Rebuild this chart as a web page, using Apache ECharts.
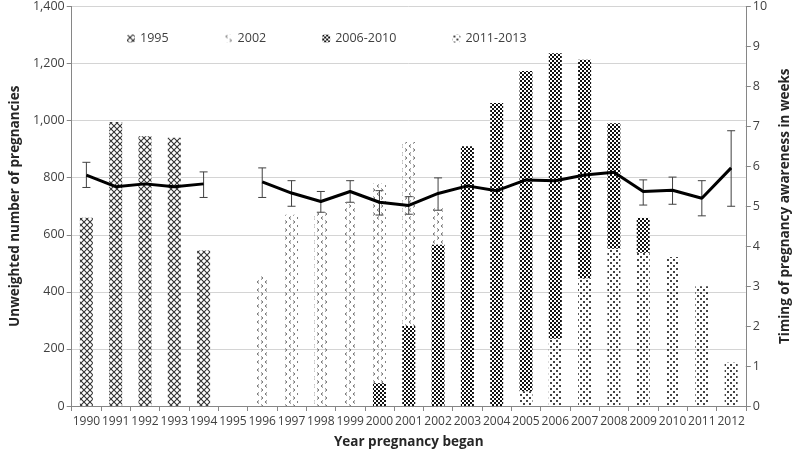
<!DOCTYPE html>
<html>
<head>
<meta charset="utf-8">
<script src="https://cdn.jsdelivr.net/npm/echarts@6/dist/echarts.min.js"></script>
<style>
html,body{margin:0;padding:0;background:#fff;}
#chart{width:800px;height:454px;}
</style>
</head>
<body>
<div id="chart"></div>
<script>
// ---- data ----
var years = ['1990','1991','1992','1993','1994','1995','1996','1997','1998','1999','2000','2001','2002','2003','2004','2005','2006','2007','2008','2009','2010','2011','2012'];
var s1995 =     [660, 995, 945, 940, 545, '-', '-', '-', '-', '-', '-', '-', '-', '-', '-', '-', '-', '-', '-', '-', '-', '-', '-'];
var s2002 =     ['-', '-', '-', '-', '-', '-', 455, 670, 680, 715, 700, 645, 130, '-', '-', '-', '-', '-', '-', '-', '-', '-', '-'];
var s2006_2010 = ['-', '-', '-', '-', '-', '-', '-', '-', '-', '-', 80, 280, 565, 910, 1062, 1122, 1000, 765, 440, 122, '-', '-', '-'];
var s2011_2013 = ['-', '-', '-', '-', '-', '-', '-', '-', '-', '-', '-', '-', '-', '-', '-', 52, 236, 448, 551, 537, 522, 420, 152];
var weeks =     [5.78, 5.49, 5.56, 5.49, 5.56, '-', 5.61, 5.33, 5.12, 5.37, 5.10, 5.02, 5.32, 5.51, 5.39, 5.66, 5.64, 5.78, 5.85, 5.37, 5.40, 5.20, 5.96];
var weeksLow =  [5.47, 5.20, 5.25, 5.20, 5.22, '-', 5.22, 5.00, 4.85, 5.10, 4.78, 4.80, 4.90, 5.25, 5.10, 5.40, 5.35, 5.50, 5.55, 5.03, 5.05, 4.76, 5.00];
var weeksHigh = [6.10, 5.80, 5.85, 5.80, 5.86, '-', 5.96, 5.64, 5.37, 5.64, 5.39, 5.24, 5.71, 5.80, 5.70, 5.95, 5.95, 6.10, 6.15, 5.66, 5.73, 5.64, 6.89];
var leftTicks = [0, 1400, 200];
var rightTicks = [0, 10, 1];

// ---- patterns ----
function makePattern(w, h, draw) {
  var c = document.createElement('canvas');
  c.width = w; c.height = h;
  var ctx = c.getContext('2d');
  draw(ctx);
  return {image: c, repeat: 'repeat'};
}
var pat1995 = makePattern(6, 6, function (ctx) {
  ctx.fillStyle = '#fff'; ctx.fillRect(0, 0, 6, 6);
  ctx.strokeStyle = '#333'; ctx.lineWidth = 1.1;
  ctx.beginPath();
  ctx.moveTo(0, 0); ctx.lineTo(6, 6);
  ctx.moveTo(6, 0); ctx.lineTo(0, 6);
  ctx.stroke();
});
var pat2002 = makePattern(8, 8, function (ctx) {
  ctx.strokeStyle = '#6e6e6e'; ctx.lineWidth = 1;
  ctx.beginPath();
  ctx.moveTo(3, 0.5); ctx.lineTo(1, 2); ctx.lineTo(3, 3.5);
  ctx.moveTo(5, 4.5); ctx.lineTo(7, 6); ctx.lineTo(5, 7.5);
  ctx.stroke();
});
var pat2006 = makePattern(4, 4, function (ctx) {
  ctx.fillStyle = '#fff'; ctx.fillRect(0, 0, 4, 4);
  ctx.fillStyle = '#111';
  ctx.fillRect(0, 0, 2, 2); ctx.fillRect(2, 2, 2, 2);
});
var pat2011 = makePattern(6, 6, function (ctx) {
  ctx.fillStyle = '#444';
  ctx.fillRect(1, 1, 2, 2); ctx.fillRect(4, 4, 2, 2);
});

var errData = years.map(function (y, i) { return [i, weeksLow[i], weeksHigh[i]]; })
  .filter(function (d) { return d[1] !== '-'; });

var chart = echarts.init(document.getElementById('chart'), null, {renderer: 'canvas'});
var font = 'Open Sans';
chart.setOption({
  animation: false,
  textStyle: {fontFamily: font},
  grid: {left: 62, right: 42, top: 5, bottom: 42, containLabel: false},
  legend: {
    top: 27, left: 122, itemWidth: 8, itemHeight: 8, itemGap: 56,
    textStyle: {fontFamily: font, fontSize: 12.5, color: '#404040'},
    data: ['1995', '2002', '2006-2010', '2011-2013']
  },
  xAxis: {
    type: 'category', data: years,
    axisLine: {lineStyle: {color: '#868686'}},
    axisTick: {show: true, alignWithLabel: false, length: 5, lineStyle: {color: '#868686'}},
    axisLabel: {interval: 0, fontSize: 12, color: '#404040', margin: 10, fontFamily: font},
    name: 'Year pregnancy began', nameLocation: 'middle', nameGap: 29,
    nameTextStyle: {fontWeight: 'bold', fontSize: 13.5, color: '#262626', fontFamily: font}
  },
  yAxis: [{
    type: 'value', min: leftTicks[0], max: leftTicks[1], interval: leftTicks[2],
    axisLine: {show: true, lineStyle: {color: '#868686'}},
    axisTick: {show: true, length: 5, lineStyle: {color: '#868686'}},
    axisLabel: {fontSize: 12.5, color: '#404040', margin: 7, fontFamily: font,
      formatter: function (v) { return v.toLocaleString('en-US'); }},
    splitLine: {lineStyle: {color: '#d4d4d4'}},
    name: 'Unweighted number of pregnancies', nameLocation: 'middle', nameGap: 43,
    nameTextStyle: {fontWeight: 'bold', fontSize: 13.5, color: '#262626', fontFamily: font}
  }, {
    type: 'value', min: rightTicks[0], max: rightTicks[1], interval: rightTicks[2],
    position: 'right',
    axisLine: {show: true, lineStyle: {color: '#868686'}},
    axisTick: {show: true, length: 5, lineStyle: {color: '#868686'}},
    axisLabel: {fontSize: 12.5, color: '#404040', margin: 7, fontFamily: font},
    splitLine: {show: false},
    name: 'Timing of pregnancy awareness in weeks', nameLocation: 'middle', nameGap: 22,
    nameRotate: 90,
    nameTextStyle: {fontWeight: 'bold', fontSize: 13.5, color: '#262626', fontFamily: font}
  }],
  series: [
    {
      type: 'custom', yAxisIndex: 1, z: 1, silent: true,
      data: errData,
      renderItem: function (params, api) {
        var x = api.coord([api.value(0), api.value(1)])[0];
        var lo = api.coord([api.value(0), api.value(1)])[1];
        var hi = api.coord([api.value(0), api.value(2)])[1];
        var cap = 4;
        var st = {stroke: '#404040', lineWidth: 1};
        return {type: 'group', children: [
          {type: 'line', shape: {x1: x, y1: lo, x2: x, y2: hi}, style: st},
          {type: 'line', shape: {x1: x - cap, y1: lo, x2: x + cap, y2: lo}, style: st},
          {type: 'line', shape: {x1: x - cap, y1: hi, x2: x + cap, y2: hi}, style: st}
        ]};
      }
    },
    {name: '2011-2013', type: 'bar', stack: 'n', barWidth: 13, z: 2, data: s2011_2013, itemStyle: {color: pat2011}},
    {name: '2006-2010', type: 'bar', stack: 'n', barWidth: 13, z: 2, data: s2006_2010, itemStyle: {color: pat2006}},
    {name: '2002', type: 'bar', stack: 'n', barWidth: 13, z: 2, data: s2002, itemStyle: {color: pat2002}},
    {name: '1995', type: 'bar', stack: 'n', barWidth: 13, z: 2, data: s1995, itemStyle: {color: pat1995}},
    {
      name: 'weeks', type: 'line', yAxisIndex: 1, z: 3, data: weeks,
      symbol: 'none', connectNulls: false,
      lineStyle: {color: '#000', width: 3}
    }
  ]
});
</script>
</body>
</html>
